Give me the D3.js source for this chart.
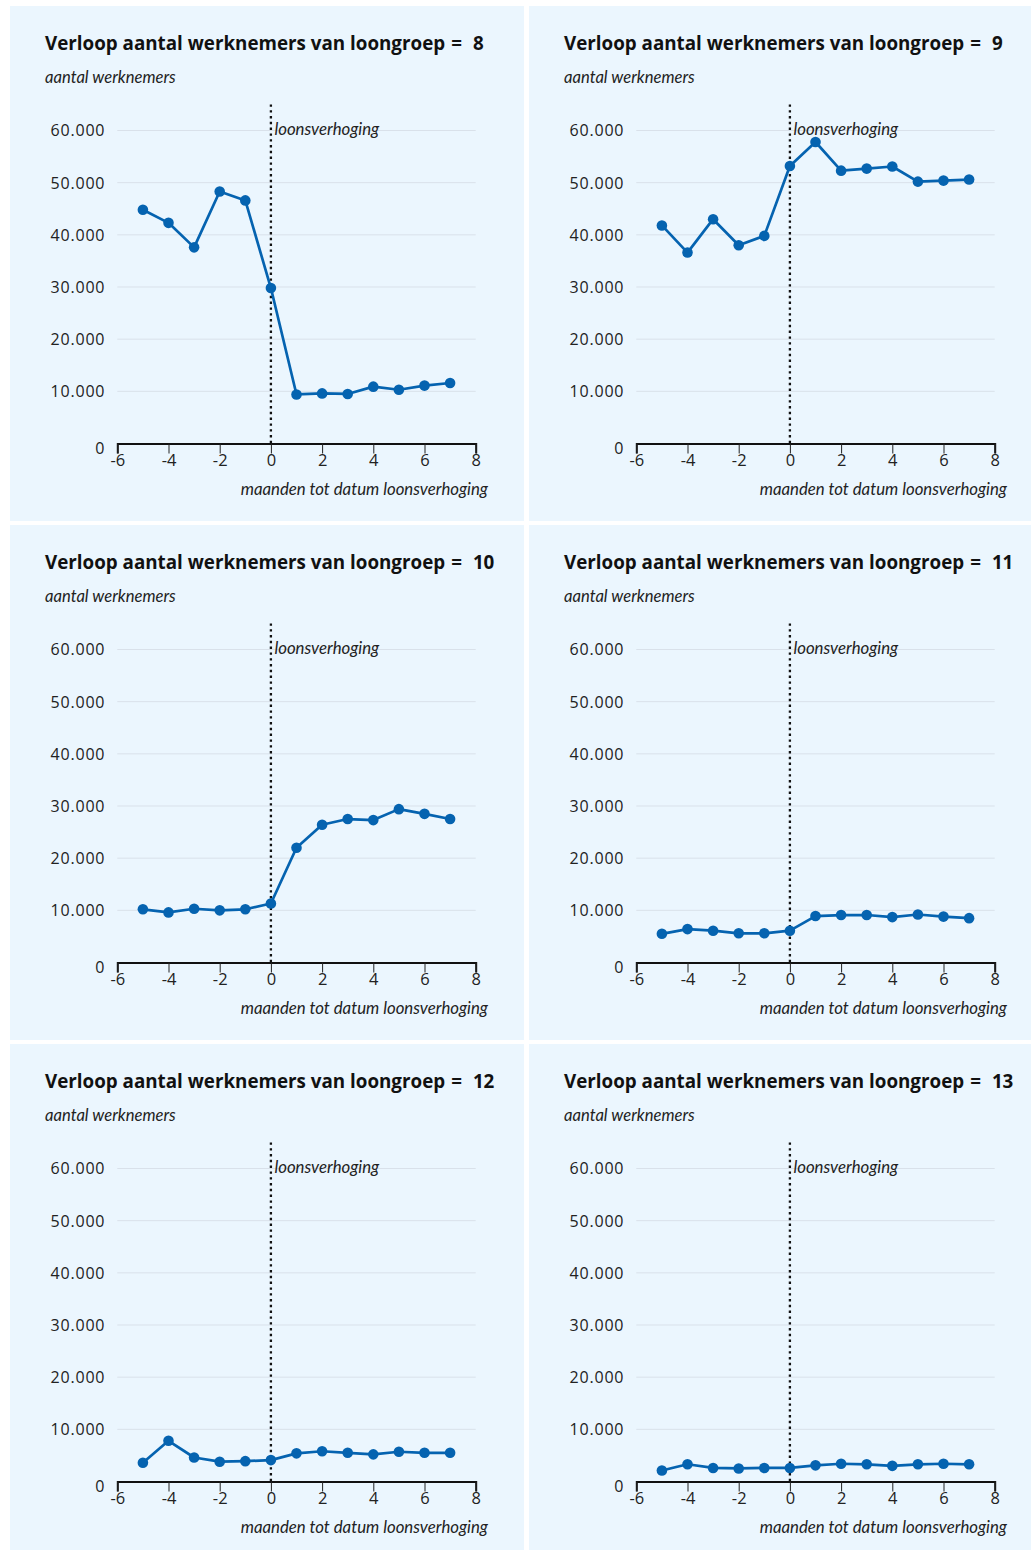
<!DOCTYPE html>
<html>
<head>
<meta charset="utf-8">
<script src="https://cdn.jsdelivr.net/npm/d3@7"></script>
<style>
  html, body { margin: 0; padding: 0; background: #ffffff; }
  svg { display: block; font-family: Lato, "Open Sans", sans-serif; }
</style>
</head>
<body>
<svg id="chart" width="1031" height="1550"></svg>
<script>
// ---------- data ----------
const months = [-5, -4, -3, -2, -1, 0, 1, 2, 3, 4, 5, 6, 7];
const loongroepen = [8, 9, 10, 11, 12, 13];
const werknemers8  = [44800, 42300, 37600, 48300, 46600, 29800, 9400, 9600, 9500, 10900, 10300, 11100, 11600];
const werknemers9  = [41800, 36600, 43000, 38000, 39800, 53200, 57800, 52300, 52700, 53100, 50200, 50400, 50600];
const werknemers10 = [10200, 9600, 10300, 10000, 10200, 11300, 22000, 26400, 27500, 27300, 29400, 28500, 27500];
const werknemers11 = [5500, 6400, 6100, 5600, 5600, 6100, 8900, 9100, 9100, 8700, 9200, 8800, 8500];
const werknemers12 = [3600, 7800, 4600, 3800, 3900, 4100, 5400, 5800, 5500, 5200, 5700, 5500, 5500];
const werknemers13 = [2100, 3300, 2600, 2500, 2600, 2600, 3100, 3400, 3300, 3000, 3300, 3400, 3300];
const seriesValues = [werknemers8, werknemers9, werknemers10, werknemers11, werknemers12, werknemers13];
const xTicks = [-6, -4, -2, 0, 2, 4, 6, 8];
const yTicks = [0, 10000, 20000, 30000, 40000, 50000, 60000];
const titlePrefix = "Verloop aantal werknemers van loongroep";
const yLabel = "aantal werknemers";
const xLabel = "maanden tot datum loonsverhoging";
const eventLabel = "loonsverhoging";

// ---------- style / layout ----------
const panelW = 514, panelH = 515, step = 519, originX = 10, originY = 6;
const bg = "#ebf6fe", blue = "#0563b0", gridC = "#d9e1ea";

const nl = d3.formatLocale({decimal: ",", thousands: ".", grouping: [3], currency: ["€", ""]});
const fmt = nl.format(",.0f");

const x = d3.scaleLinear().domain([-6, 8]).range([107.3, 465.7]);
const y = d3.scaleLinear().domain([0, 60000]).range([437.5, 124.5]);

const svg = d3.select("#chart");

loongroepen.forEach((grp, i) => {
  const col = i % 2, row = Math.floor(i / 2);
  const g = svg.append("g").attr("transform", `translate(${originX + col * step},${originY + row * step})`);
  const vals = seriesValues[i];
  const data = months.map((m, k) => ({m, v: vals[k]}));

  g.append("rect").attr("width", panelW).attr("height", panelH).attr("fill", bg);

  const t = g.append("text").attr("x", 35).attr("y", 44)
    .attr("font-family", "'Open Sans', sans-serif")
    .attr("font-size", 18.8).attr("font-weight", 700).attr("fill", "#111");
  t.append("tspan").text(titlePrefix);
  t.append("tspan").attr("dx", 6).text("=");
  t.append("tspan").attr("dx", 11).text(String(grp));

  g.append("text").attr("x", 35).attr("y", 77)
    .attr("font-size", 16.6).attr("font-style", "italic").attr("fill", "#222")
    .text(yLabel);

  // gridlines
  g.append("g").selectAll("line").data(yTicks.filter(d => d > 0)).join("line")
    .attr("x1", x.range()[0]).attr("x2", x.range()[1])
    .attr("y1", d => y(d)).attr("y2", d => y(d))
    .attr("stroke", gridC).attr("stroke-width", 1);

  // y labels
  const ya = g.append("g").attr("transform", `translate(${x.range()[0]},0)`)
    .call(d3.axisLeft(y).tickValues(yTicks).tickSize(0).tickPadding(12).tickFormat(d => fmt(d)));
  ya.select(".domain").remove();
  ya.selectAll("text").attr("font-size", 16).attr("fill", "#222")
    .attr("font-family", "'Open Sans', sans-serif").attr("letter-spacing", 0.8)
    .attr("dy", d => d === 0 ? "0.6em" : "0.34em");

  // x axis
  const xa = g.append("g").attr("transform", `translate(0,${y(0)})`)
    .call(d3.axisBottom(x).tickValues(xTicks).tickSize(10).tickPadding(1).tickFormat(d => String(d)));
  xa.select(".domain").attr("stroke", "#111").attr("stroke-width", 2);
  xa.selectAll(".tick line").attr("stroke", "#222").attr("stroke-width", 1);
  xa.selectAll("text").attr("font-size", 16.5).attr("fill", "#222")
    .attr("font-family", "'Open Sans', sans-serif");

  g.append("text").attr("x", 478).attr("y", 489).attr("text-anchor", "end")
    .attr("font-size", 16.8).attr("font-style", "italic").attr("fill", "#222")
    .text(xLabel);

  // event line
  g.append("line").attr("x1", x(0)).attr("x2", x(0)).attr("y1", y(65000)).attr("y2", y(0))
    .attr("stroke", "#111").attr("stroke-width", 2.3).attr("stroke-dasharray", "2.4,3.4");
  g.append("text").attr("x", x(0) + 3.5).attr("y", y(60000) + 4.5)
    .attr("font-size", 16.8).attr("font-style", "italic").attr("fill", "#222")
    .text(eventLabel);

  // series
  g.append("path").datum(data)
    .attr("d", d3.line().x(d => x(d.m)).y(d => y(d.v)))
    .attr("fill", "none").attr("stroke", blue).attr("stroke-width", 2.7).attr("stroke-linejoin", "round");
  g.append("g").selectAll("circle").data(data).join("circle")
    .attr("cx", d => x(d.m)).attr("cy", d => y(d.v)).attr("r", 5.3).attr("fill", blue);
});
</script>
</body>
</html>
